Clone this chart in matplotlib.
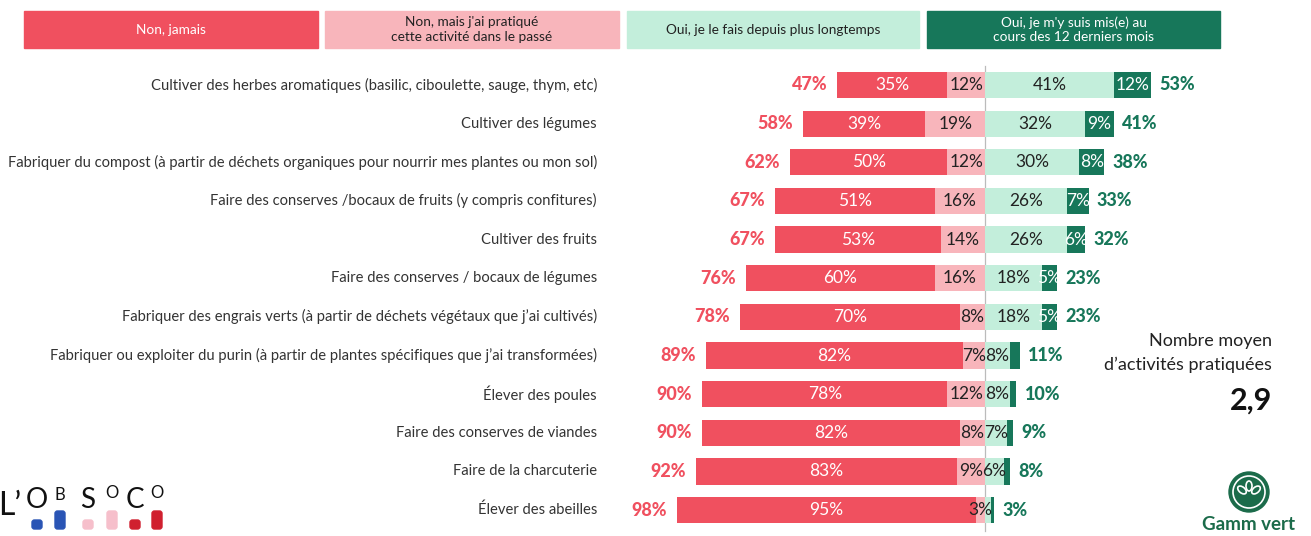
import matplotlib.pyplot as plt
from matplotlib.patches import Rectangle, FancyBboxPatch, Ellipse
from matplotlib.transforms import IdentityTransform

plt.rcParams['font.family'] = ['Lato', 'DejaVu Sans']

# --- DONNEES ---
categories = [
    "Cultiver des herbes aromatiques (basilic, ciboulette, sauge, thym, etc)",
    "Cultiver des légumes",
    "Fabriquer du compost (à partir de déchets organiques pour nourrir mes plantes ou mon sol)",
    "Faire des conserves /bocaux de fruits (y compris confitures)",
    "Cultiver des fruits",
    "Faire des conserves / bocaux de légumes",
    "Fabriquer des engrais verts (à partir de déchets végétaux que j’ai cultivés)",
    "Fabriquer ou exploiter du purin (à partir de plantes spécifiques que j’ai transformées)",
    "Élever des poules",
    "Faire des conserves de viandes",
    "Faire de la charcuterie",
    "Élever des abeilles",
]
jamais = [35, 39, 50, 51, 53, 60, 70, 82, 78, 82, 83, 95]
passe = [12, 19, 12, 16, 14, 16, 8, 7, 12, 8, 9, 3]
longtemps = [41, 32, 30, 26, 26, 18, 18, 8, 8, 7, 6, 2]
recent = [12, 9, 8, 7, 6, 5, 5, 3, 2, 2, 2, 1]
total_non = [47, 58, 62, 67, 67, 76, 78, 89, 90, 90, 92, 98]
total_oui = [53, 41, 38, 33, 32, 23, 23, 11, 10, 9, 8, 3]

legend_labels = ["Non, jamais",
                 "Non, mais j'ai pratiqué\ncette activité dans le passé",
                 "Oui, je le fais depuis plus longtemps",
                 "Oui, je m'y suis mis(e) au\ncours des 12 derniers mois"]

RED = "#F0505F"
PINK = "#F8B5BB"
LGREEN = "#C3EEDB"
DGREEN = "#17775A"
colors = [RED, PINK, LGREEN, DGREEN]
text_colors = ["white", "#222222", "#222222", "white"]
min_label = [3, 3, 3, 5]

W, H = 1311, 536
fig = plt.figure(figsize=(W / 100, H / 100), dpi=100)
ax = fig.add_axes([0, 0, 1, 1])
px = 3.14  # pixels par %
x0 = 985
ax.set_xlim(-x0 / px, (W - x0) / px)
y0, dy = 85, 38.65
ax.set_ylim((H - y0) / dy, -y0 / dy)
ax.axis("off")

bar_h = 0.68
for i, cat in enumerate(categories):
    segs = [(-total_non[i], jamais[i]), (-passe[i], passe[i]),
            (0, longtemps[i]), (longtemps[i], recent[i])]
    for k, (left, width) in enumerate(segs):
        ax.barh(i, width, left=left, height=bar_h, color=colors[k], linewidth=0)
        if width >= min_label[k]:
            ax.text(left + width / 2, i, f"{width}%", ha="center", va="center",
                    fontsize=12.5, color=text_colors[k])
    ax.text(-total_non[i] - 3.2, i, f"{total_non[i]}%", ha="right", va="center",
            fontsize=13, fontweight="black", color=RED)
    ax.text(total_oui[i] + 2.6, i, f"{total_oui[i]}%", ha="left", va="center",
            fontsize=13, fontweight="black", color=DGREEN)
    ax.text((597 - x0) / px, i, cat, ha="right", va="center", fontsize=10.6,
            color="#333333")

# ligne centrale
ax.plot([0, 0], [-0.5, 11.55], color="#BBBBBB", linewidth=0.9, zorder=0)

# legende en haut
boxes = [(24, 318), (325, 619), (627, 919), (927, 1220)]
for k, (a, b) in enumerate(boxes):
    fig.patches.append(Rectangle((a / W, 1 - 48 / H), (b - a) / W, 37 / H,
                                 transform=fig.transFigure, color=colors[k]))
    fig.text((a + b) / 2 / W, 1 - 29.5 / H, legend_labels[k], ha="center",
             va="center", fontsize=9.8, linespacing=1.25,
             color=text_colors[k])

# nombre moyen
fig.text(1272 / W, 1 - 341 / H, "Nombre moyen", ha="right", va="center",
         fontsize=13, color="#222222")
fig.text(1272 / W, 1 - 365 / H, "d’activités pratiquées", ha="right",
         va="center", fontsize=13, color="#222222")
fig.text(1272 / W, 1 - 401 / H, "2,9", ha="right", va="center",
         fontsize=22, fontweight="bold", color="#111111")

# logo L'OBSOCO
pix = IdentityTransform()
fig.text(-2, H - 506, "L’", transform=pix, ha="left", va="center", fontsize=23,
         color="#111111")
for ch, cx, cy, fs in [("O", 37, 500, 20), ("B", 60, 495, 12),
                       ("S", 88, 500, 20), ("O", 112, 493, 12),
                       ("C", 135, 500, 20), ("O", 157, 493, 12)]:
    fig.text(cx, H - cy, ch, transform=pix, ha="center", va="center",
             fontsize=fs, color="#111111")
dots = [(32, 520, 10, 9, "#2A55B5"), (55, 511, 10, 18, "#2A55B5"),
        (83, 520, 10, 9, "#F6BFCB"), (107, 511, 10, 18, "#F6BFCB"),
        (130, 520, 10, 9, "#D0202F"), (152, 511, 10, 18, "#D0202F")]
for (bx, by, bw, bh, c) in dots:
    fig.patches.append(FancyBboxPatch((bx, H - by - bh), bw, bh,
                                      boxstyle="round,pad=0,rounding_size=2.5",
                                      transform=pix, color=c))

# logo Gamm vert
gx, gy = 1249, H - 492
fig.patches.append(Ellipse((gx, gy), 40, 40, transform=pix, color="#1B6B4A"))
fig.patches.append(Ellipse((gx, gy), 32, 32, transform=pix, fill=False,
                           edgecolor="white", linewidth=1.2))
for (lx, ly, ang) in [(0, 6, 0), (-7, 2, 50), (7, 2, -50)]:
    fig.patches.append(Ellipse((gx + lx, gy + ly), 6, 10, angle=ang, transform=pix,
                               fill=False, edgecolor="white", linewidth=1.2))
fig.text(gx, H - 524, "Gamm vert", transform=pix, ha="center", va="center",
         fontsize=13.5, fontweight="bold", color="#1B6B4A")

fig.savefig("out.png", dpi=100)
